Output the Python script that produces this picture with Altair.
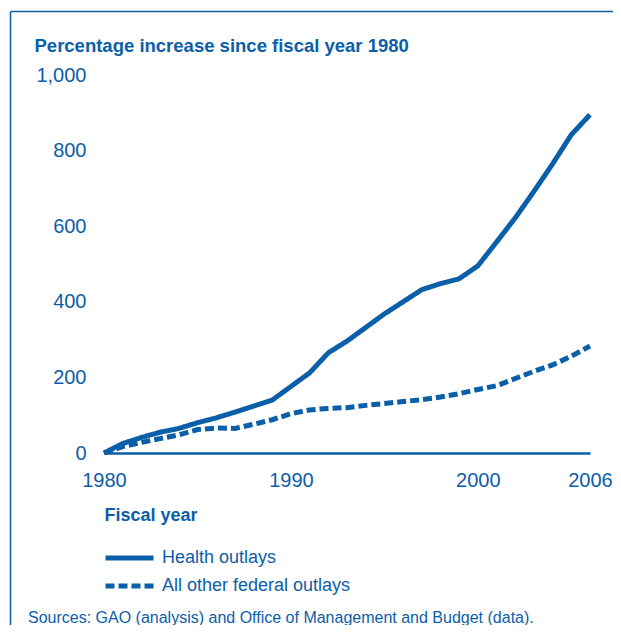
import altair as alt
import pandas as pd

BLUE = "#0B5EA8"

years = list(range(1980, 2007))
health = [0, 25, 41, 55, 65, 80, 93, 108, 124, 140, 176, 212, 265, 296, 332,
          368, 400, 432, 448, 461, 495, 558, 622, 692, 765, 842, 895]
other = [0, 17, 28, 38, 48, 62, 66, 65, 76, 88, 104, 114, 118, 120, 126,
         131, 136, 141, 148, 157, 168, 178, 197, 216, 233, 256, 283]
series_names = ["Health outlays", "All other federal outlays"]
x_ticks = [1980, 1990, 2000, 2006]
y_ticks = [0, 200, 400, 600, 800, 1000]
y_title = "Percentage increase since fiscal year 1980"
x_title = "Fiscal year"
source_text = "Sources: GAO (analysis) and Office of Management and Budget (data)."

df = pd.concat([
    pd.DataFrame({"year": years, "value": health, "series": series_names[0]}),
    pd.DataFrame({"year": years, "value": other, "series": series_names[1]}),
])

lines = alt.Chart(df).mark_line(strokeWidth=5, color=BLUE, strokeCap="butt").encode(
    x=alt.X("year:Q",
            scale=alt.Scale(domain=[1980, 2006], nice=False, zero=False),
            axis=alt.Axis(values=x_ticks, format="d", title=x_title,
                          labelFontSize=20, labelColor=BLUE, labelPadding=17,
                          labelFont="Liberation Sans", labelFlush=False,
                          ticks=False, grid=False, domain=True,
                          domainColor=BLUE, domainWidth=2.5,
                          titleFont="Liberation Sans", titleFontSize=18,
                          titleFontWeight="bold", titleColor=BLUE,
                          titleAnchor="start", titleAlign="left",
                          titleX=0, titleY=67, titleBaseline="alphabetic")),
    y=alt.Y("value:Q",
            scale=alt.Scale(domain=[0, 1000], nice=False),
            axis=alt.Axis(values=y_ticks, format=",d", title=y_title,
                          labelFontSize=20, labelColor=BLUE, labelPadding=18,
                          labelFont="Liberation Sans", labelFlush=False,
                          ticks=False, grid=False, domain=False,
                          titleFont="Liberation Sans", titleFontSize=18.5,
                          titleFontWeight="bold", titleColor=BLUE,
                          titleAngle=0, titleAlign="left",
                          titleBaseline="alphabetic",
                          titleX=-70, titleY=-24)),
    strokeDash=alt.StrokeDash("series:N",
        scale=alt.Scale(domain=series_names, range=[[1, 0], [9, 4]]),
        legend=alt.Legend(title=None, orient="none", legendX=-1, legendY=469,
                          symbolType="stroke", symbolSize=2304,
                          symbolStrokeWidth=5, symbolStrokeColor=BLUE,
                          clipHeight=28, rowPadding=0, padding=0,
                          labelFontSize=18, labelColor=BLUE, labelLimit=0,
                          labelFont="Liberation Sans", labelOffset=6)),
)

source = alt.Chart(pd.DataFrame({"t": [source_text]})).mark_text(
    align="left", baseline="alphabetic", fontSize=16, color=BLUE,
    font="Liberation Sans").encode(
    text="t:N", x=alt.value(-76), y=alt.value(548))

frame_left = alt.Chart(pd.DataFrame({"a": [0]})).mark_rule(
    color=BLUE, strokeWidth=1.5).encode(
    x=alt.value(-93.5), y=alt.value(-63.5), y2=alt.value(600))
frame_top = alt.Chart(pd.DataFrame({"a": [0]})).mark_rule(
    color=BLUE, strokeWidth=1.5).encode(
    x=alt.value(-93.5), x2=alt.value(540), y=alt.value(-63.5))

chart = alt.layer(lines, source, frame_left, frame_top).properties(
    width=486, height=378,
    background="white",
    autosize=alt.AutoSizeParams(type="none"),
    padding={"left": 96, "top": 67, "right": 23, "bottom": 172},
).configure_view(strokeWidth=0, stroke="transparent")

chart.save("out.html", embed_options={"renderer": "svg", "actions": False})
